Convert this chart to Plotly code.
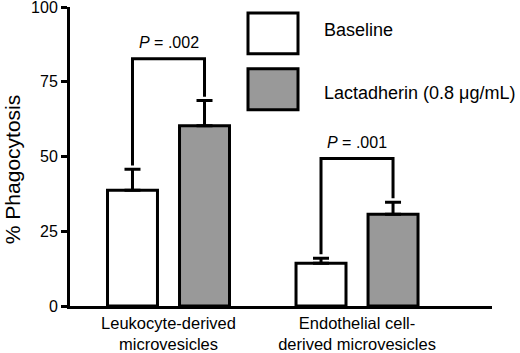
import plotly.graph_objects as go

categories = ["Leukocyte-derived<br>microvesicles", "Endothelial cell-<br>derived microvesicles"]
baseline = [38.7, 14.3]
baseline_err = [7.0, 1.7]
lactadherin = [60.3, 30.7]
lactadherin_err = [8.4, 4.0]
series_names = ["Baseline", "Lactadherin (0.8 \u03bcg/mL)"]
p_labels = ["<i>P</i> = .002", "<i>P</i> = .001"]
bracket_tops = [82.7, 49.3]
y_ticks = [0, 25, 50, 75, 100]

FONT = "Liberation Sans, Arial, Helvetica, sans-serif"
GRAY = "#999999"
bargap = 0.236
bargroupgap = 0.306
off = (1 - bargap) / 4

fig = go.Figure()
for name, vals, errs, fill in [(series_names[0], baseline, baseline_err, "white"),
                               (series_names[1], lactadherin, lactadherin_err, GRAY)]:
    fig.add_trace(go.Bar(
        name=name, x=categories, y=vals,
        marker=dict(color=fill, line=dict(color="black", width=3)),
        error_y=dict(type="data", array=errs, arrayminus=[0] * len(errs), symmetric=False,
                     color="black", thickness=3, width=8),
        showlegend=False,
    ))

shapes = []
annotations = []
for i in range(len(categories)):
    xl, xr = i - off, i + off
    yl = baseline[i] + baseline_err[i] + 1.3
    yr = lactadherin[i] + lactadherin_err[i] + 1.3
    top = bracket_tops[i]
    shapes.append(dict(type="path", xref="x", yref="y",
                       path=f"M {xl},{yl} L {xl},{top} L {xr},{top} L {xr},{yr}",
                       line=dict(color="black", width=3)))
    annotations.append(dict(x=i, y=top + 2.0, xref="x", yref="y", text=p_labels[i],
                            showarrow=False, yanchor="bottom", xanchor="center",
                            font=dict(size=16, family=FONT, color="black")))

# manual legend
legend_boxes = [(0.98, 0.8433, "white"), (0.7933, 0.6567, GRAY)]
legend_text_y = [0.9233, 0.7133]
for (yt, yb, fill), ty, name in zip(legend_boxes, legend_text_y, series_names):
    shapes.append(dict(type="rect", xref="paper", yref="paper", x0=0.4218, x1=0.5403,
                       y0=yb, y1=yt, fillcolor=fill, line=dict(color="black", width=3)))
    annotations.append(dict(x=0.597, y=ty, xref="paper", yref="paper", text=name,
                            showarrow=False, xanchor="left", yanchor="middle",
                            font=dict(size=18, family=FONT, color="black")))

annotations.append(dict(x=-0.1355, y=0.457, xref="paper", yref="paper", text="% Phagocytosis",
                        textangle=-90, showarrow=False, xanchor="center", yanchor="middle",
                        font=dict(size=21, family=FONT, color="black")))

fig.update_layout(
    width=520, height=353,
    margin=dict(l=70, r=28, t=7, b=47, autoexpand=False),
    paper_bgcolor="white", plot_bgcolor="white",
    barmode="group", bargap=bargap, bargroupgap=bargroupgap,
    font=dict(family=FONT, size=18, color="black"),
    shapes=shapes, annotations=annotations,
    showlegend=False,
)
fig.update_xaxes(range=[-0.5225, 1.716], showline=True, linecolor="black", linewidth=3,
                 ticks="", showgrid=False, zeroline=False, tickfont=dict(size=16.5, family=FONT),
                 automargin=False)
fig.update_yaxes(range=[0, 100], tickvals=y_ticks, showline=True, linecolor="black", linewidth=3,
                 ticks="outside", ticklen=6, tickwidth=3, tickcolor="black", showgrid=False,
                 zeroline=False, tickfont=dict(size=16, family=FONT), automargin=False,
                 ticklabeloverflow="allow")

fig.write_html("out.html", config={"displayModeBar": False},
               post_script="document.body.style.margin='0';document.body.style.padding='0';")
